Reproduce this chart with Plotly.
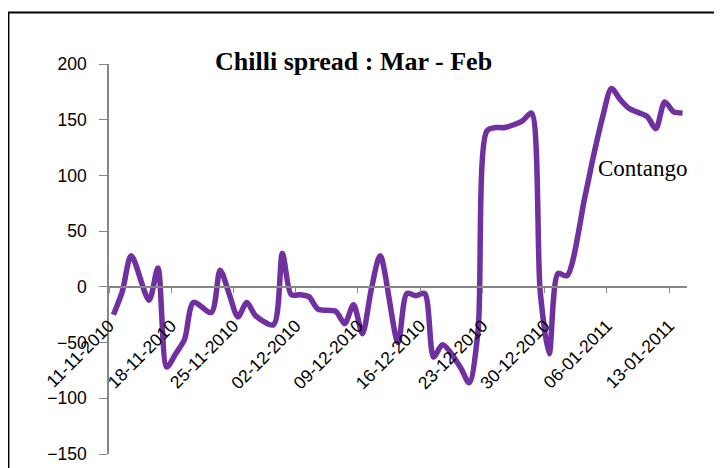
import plotly.graph_objects as go
import pandas as pd

# ---- data ----
dates = ["2010-11-11", "2010-11-12", "2010-11-13", "2010-11-15", "2010-11-16", "2010-11-17",
         "2010-11-18", "2010-11-19", "2010-11-20", "2010-11-22", "2010-11-23", "2010-11-24",
         "2010-11-25", "2010-11-26", "2010-11-27", "2010-11-29", "2010-11-30", "2010-12-01",
         "2010-12-02", "2010-12-03", "2010-12-04", "2010-12-06", "2010-12-07", "2010-12-08",
         "2010-12-09", "2010-12-10", "2010-12-11", "2010-12-13", "2010-12-14", "2010-12-15",
         "2010-12-16", "2010-12-17", "2010-12-18", "2010-12-20", "2010-12-21", "2010-12-22",
         "2010-12-23", "2010-12-24", "2010-12-25", "2010-12-27", "2010-12-28", "2010-12-29",
         "2010-12-30", "2010-12-31", "2011-01-01", "2011-01-03", "2011-01-04", "2011-01-05",
         "2011-01-06", "2011-01-07", "2011-01-08", "2011-01-10", "2011-01-11", "2011-01-12",
         "2011-01-13", "2011-01-14"]
spread = [-25, -4, 28, -12, 17, -72,
          -60, -47, -14, -23, 15, -6,
          -27, -14, -26, -34, 30, -7,
          -7, -9, -20, -22, -33, -16,
          -42, -2, 28, -50, -6, -8,
          -6, -63, -52, -72, -86, -40,
          140, 143, 143, 149, 156, -5,
          -60, 12, 10, 80, 118, 152,
          178, 168, 160, 153, 142, 166,
          157, 156]
tick_labels = ["11-11-2010", "18-11-2010", "25-11-2010", "02-12-2010", "09-12-2010",
               "16-12-2010", "23-12-2010", "30-12-2010", "06-01-2011", "13-01-2011"]
y_ticks = [-150, -100, -50, 0, 50, 100, 150, 200]

title_text = "Chilli spread : Mar - Feb"
note_text = "Contango"

# ---- derived ----
half_day = pd.Timedelta(hours=12)
tick_pos = [pd.to_datetime(t, format="%d-%m-%Y") - half_day for t in tick_labels]
x_start = pd.to_datetime(dates[0]) - half_day
x_end = pd.to_datetime(dates[-1]) + half_day

# page is 722x468; the html body adds an 8px margin, so the figure is 714x460
OFF = 8
W, H = 722 - OFF, 468 - OFF
PL, PR, PT, PB = 109, 686.6, 64, 454          # plot area in page pixels
ML, MR, MT, MB = PL - OFF, W - (PR - OFF), PT - OFF, H - (PB - OFF)
PW, PH = W - ML - MR, H - MT - MB


def px_x(p):
    return (p - PL) / PW


def px_y(p):
    return (PB - p) / PH


fig = go.Figure()
fig.add_trace(go.Scatter(
    x=dates, y=spread, mode="lines",
    line=dict(color="#7030A0", width=5.5, shape="spline", smoothing=0.8),
    hoverinfo="x+y", showlegend=False,
))

axis_gray = "#868686"
fig.update_layout(
    width=W, height=H,
    margin=dict(l=ML, r=MR, t=MT, b=MB, autoexpand=False),
    paper_bgcolor="white", plot_bgcolor="white",
    showlegend=False,
    xaxis=dict(
        type="date",
        range=[x_start, x_end],
        tickmode="array", tickvals=tick_pos, ticktext=tick_labels,
        tickangle=-45,
        anchor="free", position=150 / 350,
        showline=True, linecolor=axis_gray, linewidth=1.5,
        ticks="outside", ticklen=5, tickcolor=axis_gray,
        ticklabelstandoff=16,
        showgrid=False, zeroline=False, automargin=False,
        tickfont=dict(family="Liberation Sans", size=17.5, color="black"),
    ),
    yaxis=dict(
        range=[-150, 200],
        tickmode="array", tickvals=y_ticks,
        showline=True, linecolor=axis_gray, linewidth=1.5,
        ticks="outside", ticklen=8, tickcolor=axis_gray,
        ticklabelstandoff=9,
        showgrid=False, zeroline=False, automargin=False,
        tickfont=dict(family="Liberation Sans", size=17.5, color="black"),
    ),
    annotations=[
        dict(text=f"<b>{title_text}</b>", xref="paper", yref="paper",
             x=px_x(353), y=px_y(61), xanchor="center", yanchor="middle",
             showarrow=False, font=dict(family="Liberation Serif", size=26, color="black")),
        dict(text=note_text, xref="paper", yref="paper",
             x=px_x(642.5), y=px_y(168), xanchor="center", yanchor="middle",
             showarrow=False, font=dict(family="Liberation Serif", size=23, color="black")),
    ],
    shapes=[
        dict(type="rect", xref="paper", yref="paper",
             x0=px_x(8.5), x1=px_x(760), y0=px_y(520), y1=px_y(12.5),
             line=dict(color="black", width=2), fillcolor="rgba(0,0,0,0)", layer="above"),
    ],
)

fig.write_html("out.html")
